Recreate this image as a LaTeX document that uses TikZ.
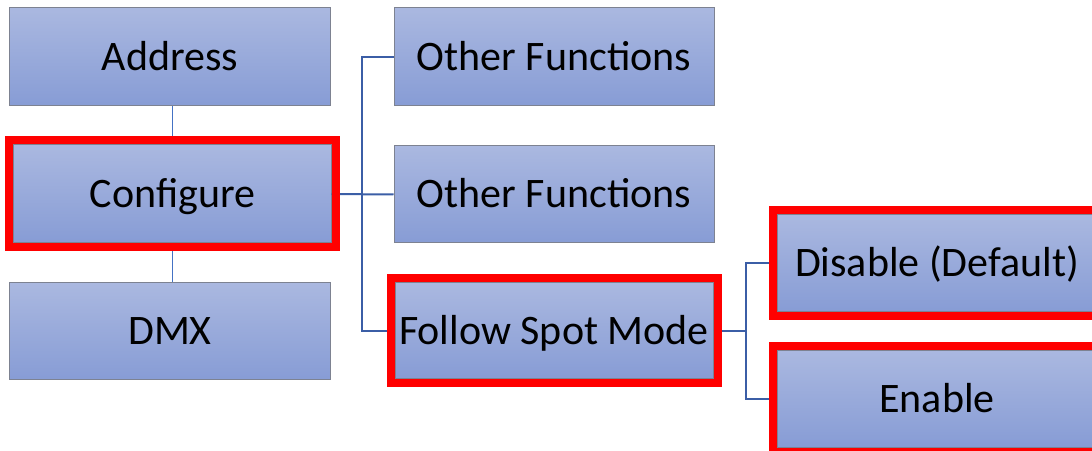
\documentclass[tikz,border=0pt]{standalone}
\usepackage{fontspec}
\setmainfont{Carlito}
\usetikzlibrary{fit}
\definecolor{boxtop}{RGB}{170,184,224}
\definecolor{boxbot}{RGB}{135,156,213}
\definecolor{boxedge}{RGB}{125,130,145}
\definecolor{lineblue}{RGB}{59,94,166}
\definecolor{thinblue}{RGB}{68,114,196}
\tikzset{
  menubox/.style={rectangle, top color=boxtop, bottom color=boxbot, draw=boxedge, line width=1bp,
    minimum width=320bp, minimum height=97bp, inner sep=0pt,
    font=\fontsize{42bp}{50bp}\selectfont, text height=27bp, text depth=0pt},
  redframe/.style={draw=red, line width=8bp, inner sep=4bp, rectangle},
  conn/.style={draw=lineblue, line width=2bp},
  thinconn/.style={draw=thinblue, line width=1bp},
}
\begin{document}
\begin{tikzpicture}[x=1bp,y=-1bp]
\useasboundingbox (0,0) rectangle (1092,451);
\clip (0,0) rectangle (1092,451);
\fill[white] (0,0) rectangle (1092,451);
% coordinates
\coordinate (b1) at (362,194);
\coordinate (b2) at (746,331);
% nodes
\node[menubox, minimum height=98bp] (addr) at (170,57) {Address};
\node[menubox, minimum width=317bp, minimum height=98bp] (conf) at (172.5,194) {Configure};
\node[menubox] (dmx) at (170,331.5) {DMX};
\node[menubox, minimum height=98bp] (of1) at (554,57) {Other Functions};
\node[menubox] (of2) at (554,194.5) {Other Functions};
\node[menubox, minimum width=318bp, minimum height=96bp] (fsm) at (554,331) {Follow Spot Mode};
\node[menubox] (dis) at (937,263.5) {Disable (Default)};
\node[menubox, minimum height=96bp] (ena) at (937,399) {Enable};
% connectors
\draw[thinconn] (addr.south -| conf.north) -- (conf.north);
\draw[thinconn] (conf.south) -- (conf.south |- dmx.north);
\draw[conn] (conf.east) -- (of2.west);
\draw[conn] (of1.west) -| (b1) |- (fsm.west);
\draw[conn] (fsm.east) -- (b2);
\draw[conn] (dis.west) -| (b2) |- (ena.west);
% red highlight frames
\node[redframe, fit=(conf)] (confhl) {};
\node[redframe, fit=(fsm)] (fsmhl) {};
\node[redframe, fit=(dis)] (dishl) {};
\node[redframe, fit=(ena)] (enahl) {};
\end{tikzpicture}
\end{document}
